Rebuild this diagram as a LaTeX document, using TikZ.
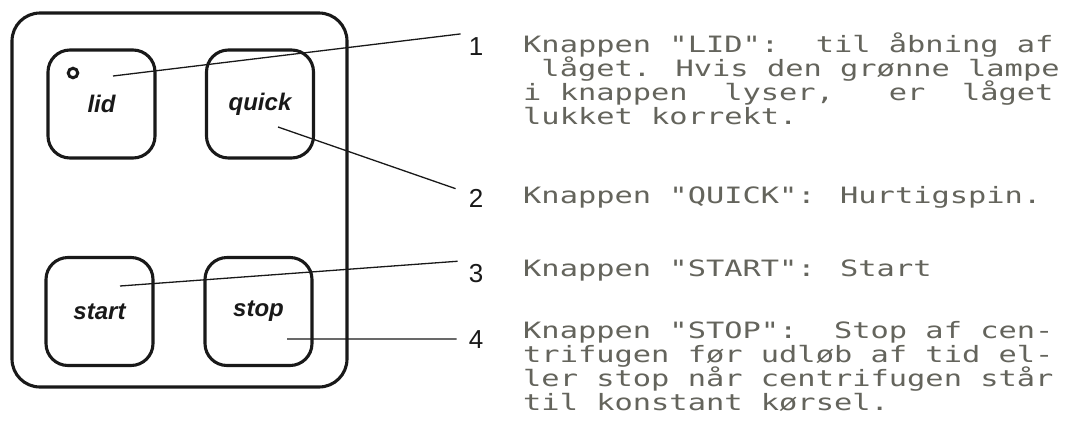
\documentclass[tikz,border=0pt]{standalone}
\usepackage{fontspec}
\setmainfont{Liberation Sans}
\newfontfamily\monofont{DejaVu Sans Mono}[FakeStretch=1.35]
\definecolor{ink}{RGB}{25,25,25}
\definecolor{txtgray}{RGB}{100,100,92}
\begin{document}
\begin{tikzpicture}[x=1pt,y=-1pt,
  frame/.style={draw=ink, line width=3.1pt, rounded corners=28pt, minimum width=335pt, minimum height=374pt, inner sep=0pt},
  btn/.style={draw=ink, line width=3.1pt, rounded corners=22pt, minimum width=107pt, minimum height=108pt, inner sep=0pt, font=\fontsize{24}{24}\selectfont\bfseries\itshape, text=ink},
  lamp/.style={draw=ink, circle, line width=3pt, minimum size=9.5pt, inner sep=0pt},
  leader/.style={draw=ink, line width=1.3pt},
  num/.style={font=\fontsize{26}{26}\selectfont, text=ink, inner sep=0pt, anchor=base},
  txt/.style={font=\monofont\fontsize{22.5}{23.5}\selectfont, text=txtgray, inner sep=0pt, anchor=base west}]
\useasboundingbox (0,0) rectangle (1083,437);
\fill[white] (0,0) rectangle (1083,437);
% panel and buttons
\node[frame] (panel) at (179.5,200) {};
\node[btn] (lid) at (101.5,104) {lid};
\node[btn] (quick) at (260,104) {quick};
\node[btn] (start) at (99.5,311.5) {start};
\node[btn] (stop) at (258.5,311.5) {stop};
\node[lamp] (lampdot) at (73,73) {};
% leader start points
\coordinate (p1) at (113,76);
\coordinate (p2) at (278,127);
\coordinate (p3) at (120,286);
\coordinate (p4) at (287,339);
% numbers
\node[num] (n1) at (476,55) {1};
\node[num] (n2) at (476,207) {2};
\node[num] (n3) at (476,282) {3};
\node[num] (n4) at (476,348) {4};
% leaders
\draw[leader] (p1) -- ([xshift=-8pt,yshift=3pt]n1.north west);
\draw[leader] (p2) -- ([xshift=-13pt]n2.north west);
\draw[leader] (p3) -- ([xshift=-11pt,yshift=2.4pt]n3.north west);
\draw[leader] (p4) -- ([xshift=-12pt]n4.west);
% description texts
\node[txt] (t1a) at (523,52) {Knappen "LID":~~til åbning af};
\node[txt] (t1b) at (523,76) {~låget. Hvis den grønne lampe};
\node[txt] (t1c) at (523,100) {i knappen~~lyser,~~~er~~låget};
\node[txt] (t1d) at (523,124) {lukket korrekt.};
\node[txt] (t2) at (523,203) {Knappen "QUICK": Hurtigspin.};
\node[txt] (t3) at (523,276) {Knappen "START": Start};
\node[txt] (t4a) at (523,338) {Knappen "STOP":~~Stop af cen-};
\node[txt] (t4b) at (523,362) {trifugen før udløb af tid el-};
\node[txt] (t4c) at (523,386) {ler stop når centrifugen står};
\node[txt] (t4d) at (523,410) {til konstant kørsel.};
\end{tikzpicture}
\end{document}
